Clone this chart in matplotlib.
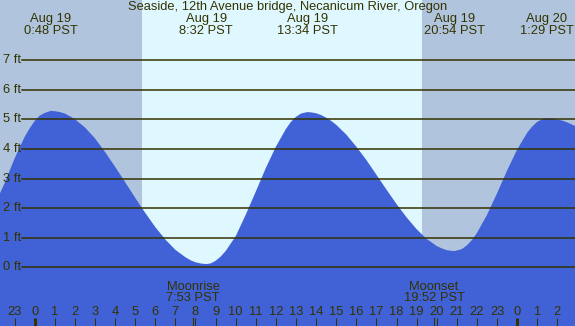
import numpy as np
import matplotlib
matplotlib.use("Agg")
import matplotlib.pyplot as plt

# tide height (ft), hours from Aug 19 0:00 PST
hours = [-1.73, -1.5, -1.0, -0.5, -0.25, 0.0, 0.25, 0.5, 0.8, 1.0, 1.25, 1.5,
         1.75, 2.0, 2.5, 3.0, 3.5, 4.0, 4.5, 5.0, 5.5, 6.0, 6.5, 7.0, 7.5,
         7.75, 8.0, 8.25, 8.53, 8.75, 9.0, 9.25, 9.5, 10.0, 10.5, 11.0, 11.5,
         12.0, 12.5, 12.75, 13.0, 13.25, 13.57, 13.75, 14.0, 14.25, 14.5,
         14.75, 15.0, 15.5, 16.0, 16.5, 17.0, 17.5, 18.0, 18.5, 19.0, 19.5,
         20.0, 20.25, 20.5, 20.75, 20.9, 21.25, 21.5, 21.75, 22.0, 22.5, 23.0,
         23.5, 24.0, 24.5, 24.75, 25.0, 25.25, 25.48, 25.75, 26.0, 26.25,
         26.5, 26.88]
tide = [2.50, 2.84, 3.68, 4.41, 4.70, 4.95, 5.13, 5.22, 5.29, 5.28, 5.25,
        5.20, 5.11, 5.01, 4.73, 4.36, 3.90, 3.40, 2.88, 2.35, 1.84, 1.36,
        0.94, 0.59, 0.34, 0.24, 0.17, 0.13, 0.11, 0.13, 0.22, 0.36, 0.55,
        1.05, 1.78, 2.56, 3.36, 4.08, 4.68, 4.92, 5.09, 5.20, 5.25, 5.24,
        5.21, 5.15, 5.06, 4.95, 4.82, 4.49, 4.08, 3.63, 3.13, 2.63, 2.14,
        1.69, 1.29, 0.96, 0.72, 0.64, 0.58, 0.555, 0.55, 0.615, 0.74, 0.92,
        1.16, 1.77, 2.50, 3.27, 3.98, 4.55, 4.76, 4.92, 5.01, 5.04, 5.03,
        5.00, 4.96, 4.90, 4.78]

extreme_hours = [0.8, 8.533, 13.567, 20.9, 25.483]
extreme_labels = ["Aug 19\n0:48 PST", "Aug 19\n8:32 PST", "Aug 19\n13:34 PST",
                  "Aug 19\n20:54 PST", "Aug 20\n1:29 PST"]
sunrise, sunset = 5.33, 19.27
moon_hours = [7.883, 19.867]
moon_labels = ["Moonrise\n7:53 PST", "Moonset\n19:52 PST"]
tick_hours = list(range(-1, 27))
tick_labels = [str(h % 24) for h in tick_hours]
ft_levels = list(range(0, 8))

title = "Seaside, 12th Avenue bridge, Necanicum River, Oregon"

night = "#b0c4de"
day = "#dff7ff"
water = "#4161d7"
ink = "#333300"
fs = 9.3

plt.rcParams['font.family'] = ['Liberation Sans', 'DejaVu Sans']

fig = plt.figure(figsize=(5.75, 3.26), dpi=100)
ax = fig.add_axes([0, 0, 1, 1])
ax.set_xlim(-1.726, 26.88)
ax.set_ylim(-1.985, 9.04)
ax.axis("off")

ax.axvspan(-5, sunrise, color=night, lw=0, zorder=0)
ax.axvspan(sunrise, sunset, color=day, lw=0, zorder=0)
ax.axvspan(sunset, 30, color=night, lw=0, zorder=0)

ax.fill_between(hours, tide, -5, color=water, lw=0, zorder=1)

for lv in ft_levels:
    ax.axhline(lv, xmin=22 / 575, xmax=1, color=ink, lw=1.1, zorder=2)
    ax.text(3 / 575, lv, "%d ft" % lv, transform=ax.get_yaxis_transform(),
            ha="left", va="center", fontsize=fs, color=ink, zorder=3)

ax.text(0.5, 0.979, title, transform=ax.transAxes, ha="center", va="center",
        fontsize=fs, color=ink)

tx = ax.get_xaxis_transform()
for h, lab in zip(extreme_hours, extreme_labels):
    ax.text(h, 0.923, lab, transform=tx, ha="center", va="center",
            fontsize=fs, color=ink, linespacing=0.93)

for h, lab in zip(moon_hours, moon_labels):
    ax.text(h, 0.103, lab, transform=tx, ha="center", va="center",
            fontsize=fs, color=ink, linespacing=0.93)
    ax.plot([h, h], [0, 0.024], transform=tx, color=ink, lw=0.8, zorder=3)

for h, lab in zip(tick_hours, tick_labels):
    ax.text(h, 0.043, lab, transform=tx, ha="center", va="center",
            fontsize=fs, color=ink)
    width = 3 if h % 24 == 0 else 1
    ax.plot([h, h], [0, 0.024], transform=tx, color=ink, lw=width * 0.72,
            solid_capstyle="butt", zorder=3)

fig.savefig("out.png", dpi=100)
